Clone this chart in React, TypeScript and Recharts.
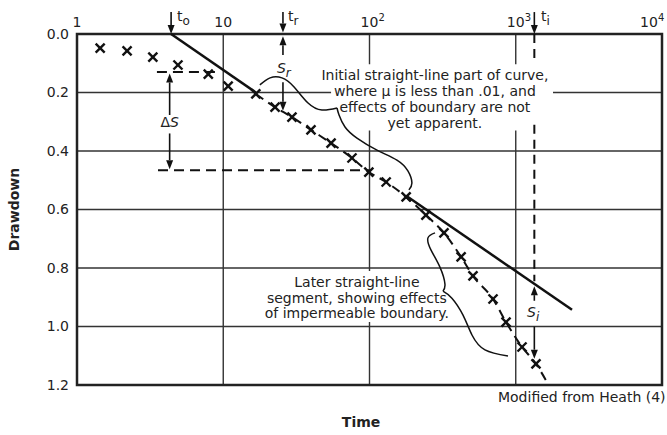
import React from 'react';
import {
  ComposedChart,
  Line,
  Scatter,
  XAxis,
  YAxis,
  CartesianGrid,
  ReferenceLine,
  ReferenceArea,
  ReferenceDot,
} from 'recharts';

// observed drawdown vs time
const time = [1.44, 2.2, 3.3, 4.9, 7.9, 10.8, 16.7, 22.6, 29.5, 39.8, 54.6, 75.9, 99, 130, 178, 243, 323, 423, 510, 699, 858, 1104, 1375];
const drawdown = [0.048, 0.058, 0.079, 0.106, 0.137, 0.178, 0.205, 0.25, 0.284, 0.328, 0.373, 0.424, 0.472, 0.506, 0.557, 0.619, 0.68, 0.762, 0.827, 0.906, 0.985, 1.07, 1.128];

// straight line (drawn solid in two pieces)
const lineEarlyT = [4.4, 16.7];
const lineEarlyS = [0, 0.2];
const lineLateT = [178, 2425];
const lineLateS = [0.553, 0.943];

// dashed curve through later points
const curveT = [16.7, 22.6, 29.5, 39.8, 54.6, 75.9, 99, 130, 178, 243, 323, 423, 510, 699, 858, 1104, 1375, 1636];
const curveS = [0.205, 0.25, 0.284, 0.328, 0.373, 0.424, 0.472, 0.506, 0.557, 0.619, 0.68, 0.762, 0.827, 0.906, 0.985, 1.07, 1.128, 1.19];

// braces
const braceUpperAT = [17.8, 20.9, 25.2, 30.5, 38.0, 47.3, 59.95];
const braceUpperAS = [0.174, 0.15, 0.15, 0.181, 0.236, 0.26, 0.253];
const braceUpperBT = [59.95, 61.9, 68.0, 82.1, 112.5, 154, 183, 195, 186];
const braceUpperBS = [0.253, 0.277, 0.318, 0.356, 0.397, 0.431, 0.468, 0.509, 0.533];
const braceLowerAT = [280.5, 251, 263, 303, 328, 318];
const braceLowerAS = [0.68, 0.697, 0.738, 0.797, 0.855, 0.879];
const braceLowerBT = [318, 366, 436, 502, 616, 885];
const braceLowerBS = [0.879, 0.903, 0.961, 1.029, 1.08, 1.101];

const xTicks = [1, 10, 100, 1000, 10000];
const yTicks = [0, 0.2, 0.4, 0.6, 0.8, 1.0, 1.2];

const upperText = ['Initial straight-line part of curve,', 'where \u03bc is less than .01, and', 'effects of boundary are not', 'yet apparent.'];
const lowerText = ['Later straight-line', 'segment, showing effects', 'of impermeable boundary.'];

const toPts = (t: number[], s: number[]) => t.map((x, i) => ({ x, y: s[i] }));

const INK = '#111';
const FONT = 'DejaVu Sans';

const TopTick = (props: any) => {
  const { x, y, payload } = props;
  const e = Math.round(Math.log10(payload.value));
  if (e < 2) {
    return (
      <text x={x} y={y + 1} textAnchor="middle" fontSize={14} fill="#222" fontFamily={FONT}>
        {payload.value}
      </text>
    );
  }
  // last label is pulled in so it stays inside the picture
  const cx = e === 4 ? x - 13 : x;
  return (
    <g fill="#222" fontFamily={FONT}>
      <text x={cx} y={y + 1} textAnchor="middle" fontSize={14}>10</text>
      <text x={cx + 9} y={y - 5} fontSize={10}>{e}</text>
    </g>
  );
};

const Cross = (props: any) => {
  const { cx, cy } = props;
  const d = 4.5;
  return (
    <g stroke={INK} strokeWidth={2.4}>
      <line x1={cx - d} y1={cy - d} x2={cx + d} y2={cy + d} />
      <line x1={cx - d} y1={cy + d} x2={cx + d} y2={cy - d} />
    </g>
  );
};

const Arrow = (props: any) => {
  const { x1, y1, x2, y2 } = props;
  const a = Math.atan2(y2 - y1, x2 - x1);
  const L = 9;
  const W = 3.5;
  const bx = x2 - L * Math.cos(a);
  const by = y2 - L * Math.sin(a);
  const pts = `${x2},${y2} ${bx + W * Math.sin(a)},${by - W * Math.cos(a)} ${bx - W * Math.sin(a)},${by + W * Math.cos(a)}`;
  return (
    <g>
      <line x1={x1} y1={y1} x2={bx} y2={by} stroke={INK} strokeWidth={1.6} />
      <polygon points={pts} fill={INK} />
    </g>
  );
};

const note = (content: React.ReactNode, anchor: string = 'start', bold = false) => (props: any) => {
  const { x, y, width, height } = props.viewBox;
  return (
    <text
      x={x + width / 2}
      y={y + height / 2}
      dy="0.35em"
      textAnchor={anchor}
      fontSize={14}
      fontWeight={bold ? 700 : 400}
      fill="#222"
      fontFamily={FONT}
    >
      {content}
    </text>
  );
};

const block = (lines: string[], lh: number) => (props: any) => {
  const { x, y, width, height } = props.viewBox;
  const cx = x + width / 2;
  const cy = y + height / 2;
  return (
    <text textAnchor="middle" fontSize={14} fill="#222" fontFamily={FONT}>
      {lines.map((l, i) => (
        <tspan key={i} x={cx} y={cy + (i - (lines.length - 1) / 2) * lh} dy="0.35em">
          {l}
        </tspan>
      ))}
    </text>
  );
};

const sub = (base: string, s: string, italic = false) => (
  <>
    <tspan fontStyle={italic ? 'italic' : 'normal'}>{base}</tspan>
    <tspan fontSize={12} dy={4} fontStyle={italic ? 'italic' : 'normal'}>{s}</tspan>
  </>
);

const YLabel = (props: any) => {
  const { x, y, height } = props.viewBox;
  const cx = x + 14;
  const cy = y + height / 2;
  return (
    <text
      x={cx}
      y={cy}
      transform={`rotate(-90 ${cx} ${cy})`}
      textAnchor="middle"
      dominantBaseline="central"
      fontSize={14}
      fontWeight={700}
      fill="#222"
      fontFamily={FONT}
    >
      Drawdown
    </text>
  );
};

const seg = (x1: number, y1: number, x2: number, y2: number) => [
  { x: x1, y: y1 },
  { x: x2, y: y2 },
];

export default function App() {
  const points = toPts(time, drawdown);
  const braces = [
    toPts(braceUpperAT, braceUpperAS),
    toPts(braceUpperBT, braceUpperBS),
    toPts(braceLowerAT, braceLowerAS),
    toPts(braceLowerBT, braceLowerBS),
  ];

  return (
    <div style={{ position: 'absolute', left: 0, top: 0, fontFamily: FONT }}>
      <ComposedChart width={667} height={435} margin={{ top: 4, right: 5, bottom: 50, left: 0 }}>
        <CartesianGrid stroke="#333" strokeWidth={1.4} />
        <XAxis
          dataKey="x"
          type="number"
          scale="log"
          domain={[1, 10000]}
          ticks={xTicks}
          interval={0}
          orientation="top"
          height={30}
          axisLine={false}
          tickLine={false}
          tick={<TopTick />}
          allowDataOverflow
        />
        <YAxis
          dataKey="y"
          type="number"
          domain={[0, 1.2]}
          ticks={yTicks}
          interval={0}
          reversed
          width={77}
          axisLine={false}
          tickLine={false}
          tickFormatter={(v: number) => v.toFixed(1)}
          tick={{ fill: '#222', fontSize: 14, fontFamily: FONT }}
          label={<YLabel />}
        />

        <ReferenceLine segment={seg(1340, 0, 1340, 0.1)} stroke={INK} strokeWidth={2} strokeDasharray="9 6" ifOverflow="visible" />
        <ReferenceLine segment={seg(1340, 0.31, 1340, 0.845)} stroke={INK} strokeWidth={2} strokeDasharray="9 6" ifOverflow="visible" />
        <ReferenceLine segment={seg(3.52, 0.13, 8.8, 0.13)} stroke={INK} strokeWidth={2} strokeDasharray="10 6" ifOverflow="visible" />
        <ReferenceLine segment={seg(3.58, 0.466, 100, 0.466)} stroke={INK} strokeWidth={2} strokeDasharray="10 6" ifOverflow="visible" />

        <ReferenceArea x1={54.6} x2={1798} y1={0.103} y2={0.33} fill="#fff" fillOpacity={1} stroke="none" ifOverflow="visible" />
        <ReferenceArea x1={19.3} x2={355} y1={0.81} y2={0.985} fill="#fff" fillOpacity={1} stroke="none" ifOverflow="visible" />

        <Line data={toPts(lineEarlyT, lineEarlyS)} dataKey="y" stroke={INK} strokeWidth={2.5} dot={false} isAnimationActive={false} />
        <Line data={toPts(lineLateT, lineLateS)} dataKey="y" stroke={INK} strokeWidth={2.5} dot={false} isAnimationActive={false} />
        <Line
          data={toPts(curveT, curveS)}
          dataKey="y"
          type="monotone"
          stroke={INK}
          strokeWidth={2}
          strokeDasharray="9 6"
          dot={false}
          isAnimationActive={false}
        />
        {braces.map((b, i) => (
          <Line key={i} data={b} dataKey="y" type="natural" stroke={INK} strokeWidth={1.5} dot={false} isAnimationActive={false} />
        ))}

        <Scatter data={points} shape={<Cross />} isAnimationActive={false} />

        <ReferenceLine segment={seg(4.4, -0.075, 4.4, 0)} shape={Arrow} ifOverflow="visible" />
        <ReferenceLine segment={seg(25.6, -0.075, 25.6, -0.005)} shape={Arrow} ifOverflow="visible" />
        <ReferenceLine segment={seg(25.6, 0.072, 25.6, 0.008)} shape={Arrow} ifOverflow="visible" />
        <ReferenceLine segment={seg(25.6, 0.165, 25.6, 0.262)} shape={Arrow} ifOverflow="visible" />
        <ReferenceLine segment={seg(4.3, 0.277, 4.3, 0.135)} shape={Arrow} ifOverflow="visible" />
        <ReferenceLine segment={seg(4.3, 0.34, 4.3, 0.462)} shape={Arrow} ifOverflow="visible" />
        <ReferenceLine segment={seg(1340, -0.075, 1340, 0)} shape={Arrow} ifOverflow="visible" />
        <ReferenceLine segment={seg(1340, 0.912, 1340, 0.862)} shape={Arrow} ifOverflow="visible" />
        <ReferenceLine segment={seg(1340, 1.0, 1340, 1.11)} shape={Arrow} ifOverflow="visible" />

        <ReferenceDot x={4.83} y={-0.0615} r={0} fill="none" stroke="none" ifOverflow="visible" label={note(sub('t', 'o'))} />
        <ReferenceDot x={27.7} y={-0.0615} r={0} fill="none" stroke="none" ifOverflow="visible" label={note(sub('t', 'r'))} />
        <ReferenceDot x={1488} y={-0.0615} r={0} fill="none" stroke="none" ifOverflow="visible" label={note(sub('t', 'i'))} />
        <ReferenceDot x={23.3} y={0.116} r={0} fill="none" stroke="none" ifOverflow="visible" label={note(sub('S', 'r', true))} />
        <ReferenceDot x={1194} y={0.952} r={0} fill="none" stroke="none" ifOverflow="visible" label={note(sub('S', 'i', true))} />
        <ReferenceDot
          x={4.3}
          y={0.3}
          r={0}
          fill="none"
          stroke="none"
          ifOverflow="visible"
          label={note(<><tspan>{'\u0394'}</tspan><tspan fontStyle="italic">S</tspan></>, 'middle')}
        />
        <ReferenceDot x={280} y={0.222} r={0} fill="none" stroke="none" ifOverflow="visible" label={block(upperText, 16)} />
        <ReferenceDot x={82} y={0.9026} r={0} fill="none" stroke="none" ifOverflow="visible" label={block(lowerText, 15.5)} />
        <ReferenceDot x={756} y={1.241} r={0} fill="none" stroke="none" ifOverflow="visible" label={note('Modified from Heath (4)')} />
        <ReferenceDot x={87.6} y={1.326} r={0} fill="none" stroke="none" ifOverflow="visible" label={note('Time', 'middle', true)} />

        <ReferenceArea x1={1} x2={10000} y1={0} y2={1.2} fill="none" stroke="#222" strokeWidth={2.5} ifOverflow="visible" />
      </ComposedChart>
    </div>
  );
}
